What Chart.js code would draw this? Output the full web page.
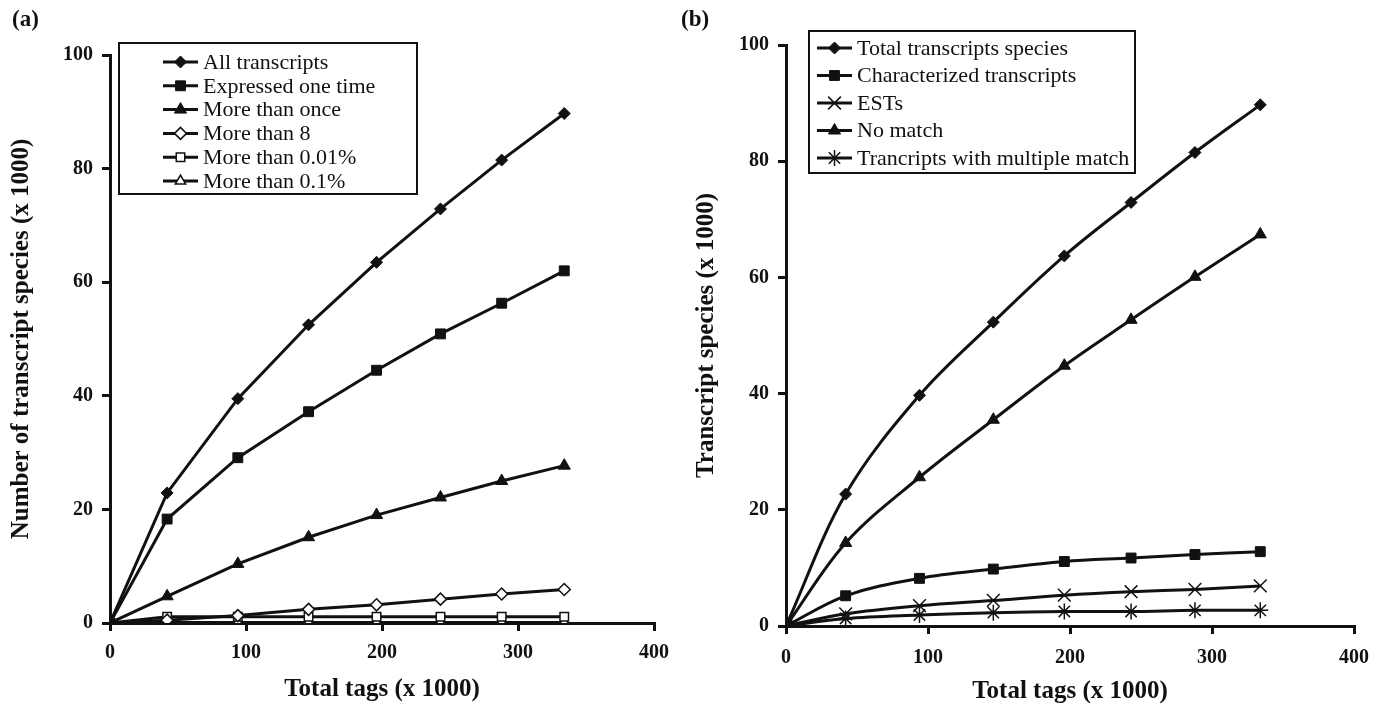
<!DOCTYPE html>
<html>
<head>
<meta charset="utf-8">
<script src="https://cdn.jsdelivr.net/npm/chart.js@4.4.1/dist/chart.umd.min.js"></script>
<style>
  body { margin: 0; background: #fff; width: 1386px; height: 708px; position: relative; overflow: hidden; }
  .panel { position: absolute; top: 0; height: 708px; }
  .tag { position: absolute; top: 6px; font: bold 23px 'Liberation Serif', 'Times New Roman', serif; color: #111; }
</style>
</head>
<body>
<div class="panel" style="left:0;width:690px"><canvas id="chartA"></canvas></div>
<div class="panel" style="left:690px;width:696px"><canvas id="chartB"></canvas></div>
<div class="tag" style="left:12px">(a)</div>
<div class="tag" style="left:681px">(b)</div>
<script>
// 数据 (x 1000)
const totalTags = [0, 42, 94, 146, 196, 243, 288, 334];

// (a)
const allTranscripts = [0, 22.9, 39.5, 52.5, 63.5, 72.9, 81.5, 89.7];
const expressedOneTime = [0, 18.3, 29.1, 37.2, 44.5, 50.9, 56.3, 62.0];
const moreThanOnce = [0, 4.7, 10.4, 15.1, 19.0, 22.1, 25.0, 27.7];
const moreThan8 = [0, 0.5, 1.3, 2.4, 3.2, 4.2, 5.1, 5.9];
const moreThan001 = [0, 1.1, 1.1, 1.1, 1.1, 1.1, 1.1, 1.1];
const moreThan01 = [0, 0.1, 0.1, 0.1, 0.1, 0.1, 0.1, 0.1];

// (b)
const totalSpecies = [0, 22.7, 39.7, 52.3, 63.7, 72.9, 81.5, 89.7];
const characterized = [0, 5.2, 8.2, 9.8, 11.1, 11.7, 12.3, 12.8];
const ests = [0, 2.1, 3.5, 4.4, 5.3, 5.9, 6.3, 6.9];
const noMatch = [0, 14.3, 25.6, 35.5, 44.8, 52.7, 60.1, 67.4];
const multipleMatch = [0, 1.3, 1.9, 2.3, 2.5, 2.5, 2.7, 2.7];

const SERIF = "'Liberation Serif', 'Times New Roman', serif";
const INK = '#111';

function points(values) {
    return values.map((v, i) => ({ x: totalTags[i], y: v }));
}

function series(label, values, style, radius, filled) {
    return {
        label: label,
        data: points(values),
        borderColor: INK,
        borderWidth: 3,
        pointStyle: style,
        pointRadius: radius,
        pointHoverRadius: radius,
        pointBackgroundColor: filled ? INK : '#fff',
        pointBorderColor: INK,
        pointBorderWidth: filled ? 1 : 1.5
    };
}

/**
 * 图内带框图例
 */
const boxLegend = {
    id: 'boxLegend',
    afterDraw(chart, args, opts) {
        const ctx = chart.ctx;
        ctx.save();
        ctx.fillStyle = '#fff';
        ctx.fillRect(opts.left, opts.top, opts.width, opts.height);
        ctx.lineWidth = 2;
        ctx.strokeStyle = INK;
        ctx.strokeRect(opts.left, opts.top, opts.width, opts.height);
        chart.data.datasets.forEach((ds, i) => {
            const y = opts.firstRow + i * opts.rowHeight;
            ctx.beginPath();
            ctx.moveTo(opts.lineStart, y);
            ctx.lineTo(opts.lineEnd, y);
            ctx.lineWidth = 3;
            ctx.strokeStyle = INK;
            ctx.stroke();
            ctx.fillStyle = ds.pointBackgroundColor;
            ctx.strokeStyle = ds.pointBorderColor;
            ctx.lineWidth = ds.pointBorderWidth;
            Chart.helpers.drawPoint(ctx, {
                pointStyle: ds.pointStyle,
                radius: ds.pointRadius,
                borderWidth: ds.pointBorderWidth,
                rotation: 0
            }, (opts.lineStart + opts.lineEnd) / 2, y);
            ctx.fillStyle = INK;
            ctx.font = '22px ' + SERIF;
            ctx.textBaseline = 'middle';
            ctx.textAlign = 'left';
            ctx.fillText(ds.label, opts.textX, y + 1);
        });
        ctx.restore();
    }
};

function makeOptions(cfg) {
    return {
        responsive: true,
        maintainAspectRatio: false,
        animation: false,
        layout: { padding: { left: 0, top: cfg.top, right: cfg.right, bottom: 0 } },
        elements: { line: { tension: cfg.tension, cubicInterpolationMode: 'default' } },
        plugins: {
            legend: { display: false },
            tooltip: { enabled: false },
            boxLegend: cfg.legend
        },
        scales: {
            x: {
                type: 'linear',
                min: 0,
                max: 400,
                afterFit: s => { s.height = cfg.xHeight; },
                ticks: { stepSize: 100, color: INK, padding: cfg.xTickPad, font: { family: SERIF, size: 20, weight: 'bold' } },
                grid: { drawOnChartArea: false, tickLength: 8, color: INK, lineWidth: 3 },
                border: { color: INK, width: 3 },
                title: { display: true, text: 'Total tags (x 1000)', color: INK, padding: { top: 0, bottom: cfg.xTitlePad }, font: { family: SERIF, size: 25, weight: 'bold' } }
            },
            y: {
                min: 0,
                max: 100,
                afterFit: s => { s.width = cfg.yWidth; },
                ticks: { stepSize: 20, color: INK, padding: 9, font: { family: SERIF, size: 20, weight: 'bold' } },
                grid: { drawOnChartArea: false, tickLength: 8, color: INK, lineWidth: 3 },
                border: { color: INK, width: 3 },
                title: { display: true, text: cfg.yTitle, color: INK, padding: { top: cfg.yTitlePad, bottom: 0 }, font: { family: SERIF, size: 25, weight: 'bold' } }
            }
        }
    };
}

new Chart(document.getElementById('chartA'), {
    type: 'line',
    data: {
        datasets: [
            series('All transcripts', allTranscripts, 'rectRot', 6, true),
            series('Expressed one time', expressedOneTime, 'rect', 7, true),
            series('More than once', moreThanOnce, 'triangle', 7, true),
            series('More than 8', moreThan8, 'rectRot', 6, false),
            series('More than 0.01%', moreThan001, 'rect', 6, false),
            series('More than 0.1%', moreThan01, 'triangle', 6, false)
        ]
    },
    options: makeOptions({
        top: 55, right: 36, xHeight: 85, yWidth: 110, tension: 0,
        xTickPad: 10, xTitlePad: 3, yTitlePad: 7,
        yTitle: 'Number of transcript species (x 1000)',
        legend: { left: 119, top: 43, width: 298, height: 151, firstRow: 62, rowHeight: 23.8, lineStart: 163, lineEnd: 198, textX: 203 }
    }),
    plugins: [boxLegend]
});

new Chart(document.getElementById('chartB'), {
    type: 'line',
    data: {
        datasets: [
            series('Total transcripts species', totalSpecies, 'rectRot', 6, true),
            series('Characterized transcripts', characterized, 'rect', 7, true),
            series('ESTs', ests, 'crossRot', 9, false),
            series('No match', noMatch, 'triangle', 7, true),
            series('Trancripts with multiple match', multipleMatch, 'star', 8, false)
        ]
    },
    options: makeOptions({
        top: 45, right: 32, xHeight: 82, yWidth: 96, tension: 0.35,
        xTickPad: 12, xTitlePad: 1, yTitlePad: 2,
        yTitle: 'Transcript species (x 1000)',
        legend: { left: 119, top: 31, width: 326, height: 142, firstRow: 48, rowHeight: 27.5, lineStart: 127, lineEnd: 162, textX: 167 }
    }),
    plugins: [boxLegend]
});
</script>
</body>
</html>
